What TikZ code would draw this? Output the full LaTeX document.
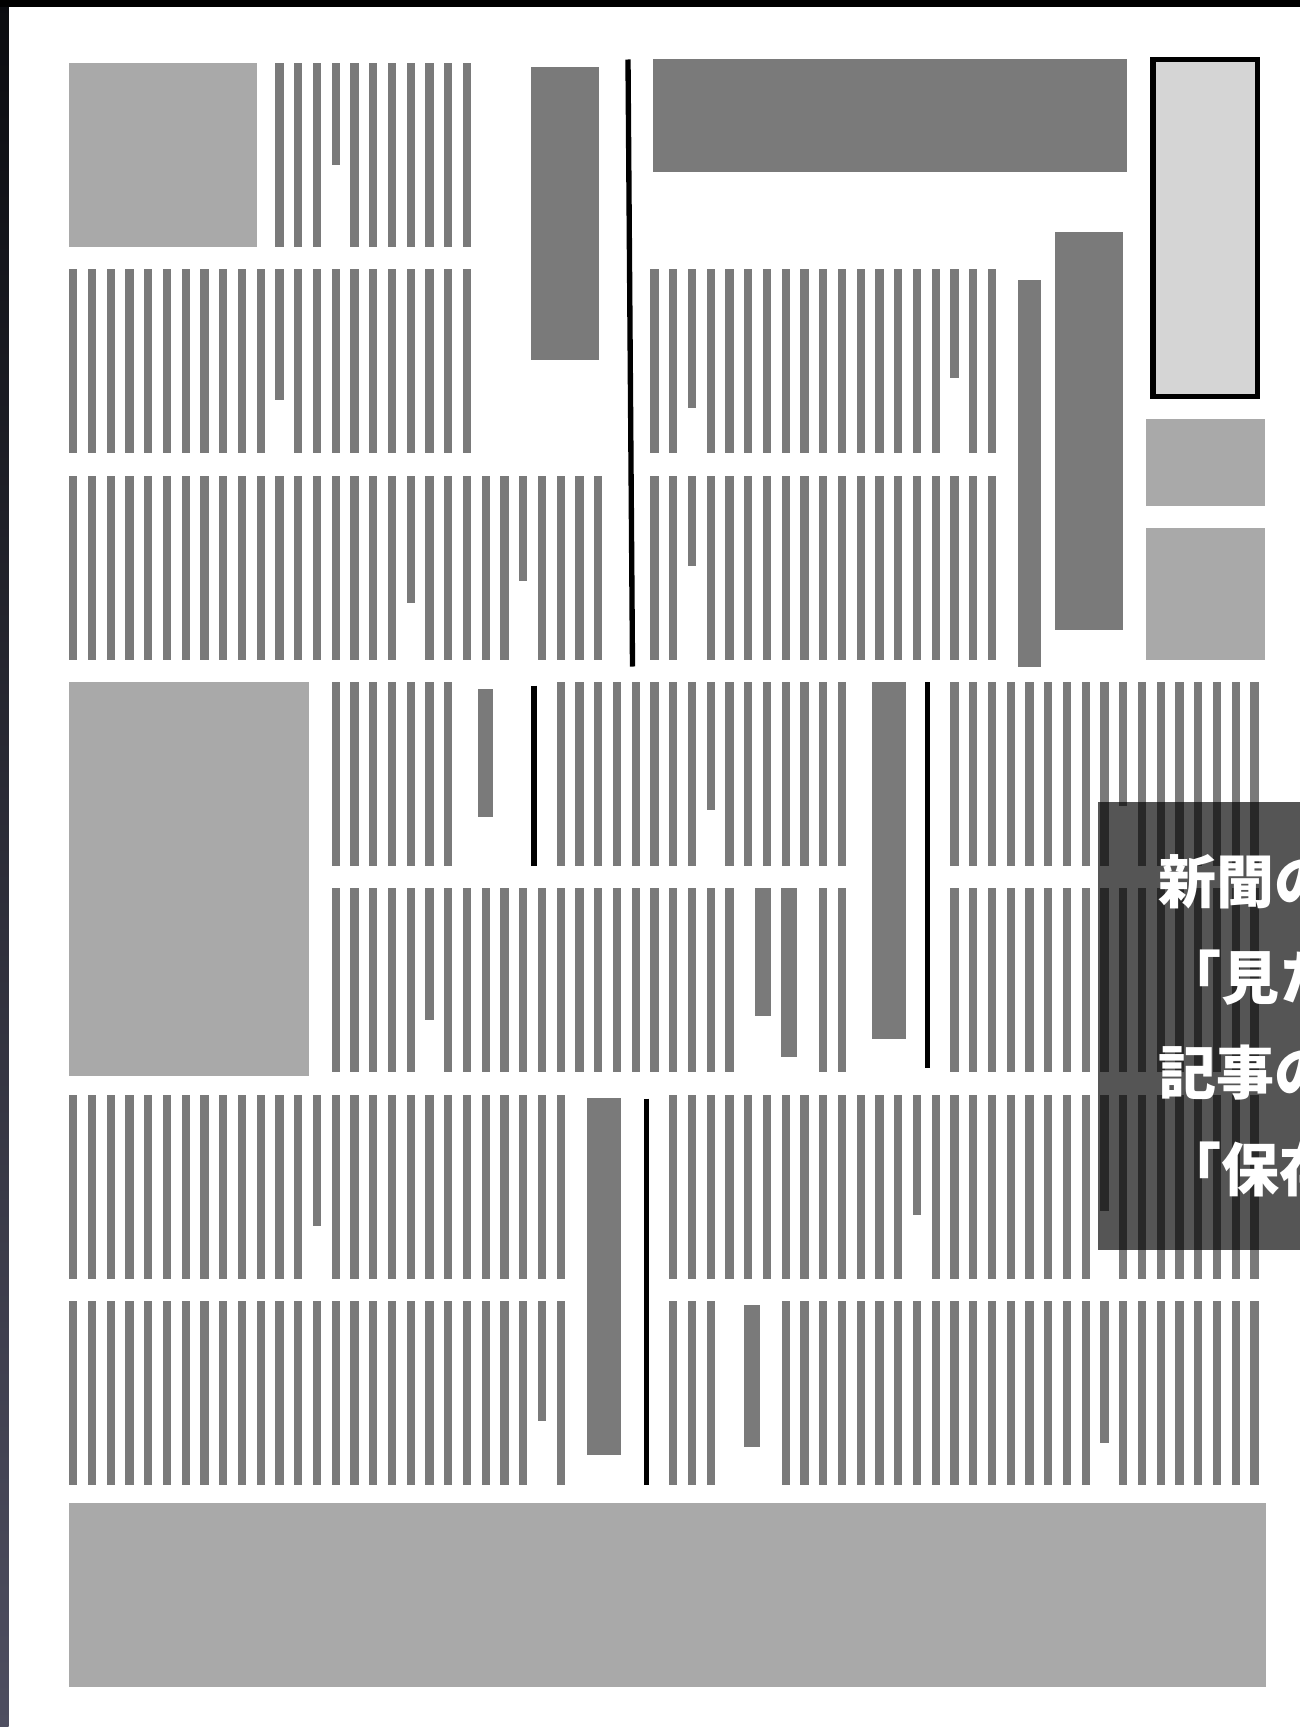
\documentclass[tikz,border=0pt]{standalone}
\usepackage{fontspec}
\newfontfamily\cjk{Noto Sans CJK JP}
\definecolor{stripegray}{HTML}{7A7A7A}
\definecolor{photogray}{HTML}{A9A9A9}
\definecolor{boxgray}{HTML}{D5D5D5}
\definecolor{edgetop}{HTML}{0B0C10}
\definecolor{edgebottom}{HTML}{4E4E60}
\tikzset{
  stripe/.style={fill=stripegray},
  darkbar/.style={fill=stripegray},
  photo/.style={fill=photogray},
  blackrule/.style={draw=black,line width=4pt},
  overtext/.style={text=white,inner sep=0pt,anchor=west,
    font=\cjk\bfseries\fontsize{43.5pt}{50pt}\selectfont}
}
% one run of text columns: first k, last k, top, bottom
\newcommand{\stripes}[4]{%
  \foreach \k in {#1,...,#2}{%
    \fill[stripe] ({69+18.75*\k},#3) rectangle ({77.3+18.75*\k},#4);}}

\begin{document}
\begin{tikzpicture}[x=0.75pt,y=0.75pt,yscale=-1,xscale=1]
    \useasboundingbox (0,0) rectangle (1300,1727);
    \clip (0,0) rectangle (1300,1727);
    \fill[white] (0,0) rectangle (1300,1727);

    % Frame edges
    \shade[top color=edgetop,bottom color=edgebottom] (0,0) rectangle (8.5,1727);
    \fill[black] (0,0) rectangle (1300,7);

    % Photos
    \fill[photo] (68.8,62.7) rectangle (257,246.7);
    \fill[photo] (1145.8,419) rectangle (1265,506);
    \fill[photo] (1145.8,528) rectangle (1265,659.7);
    \fill[photo] (68.8,682) rectangle (309.3,1075.7);
    \fill[photo] (68.8,1502.7) rectangle (1266,1687);
    % Outlined box
    \draw[line width=4pt,fill=boxgray] (1153,59.3) rectangle (1257.6,396.7);

    % Headlines
    \fill[darkbar] (653.3,59) rectangle (1126.8,171.7);
    \fill[darkbar] (530.7,66.7) rectangle (598.7,360);
    \fill[darkbar] (1054.6,232) rectangle (1122.6,630);
    \fill[darkbar] (1017.7,280) rectangle (1040.5,666.7);
    \fill[darkbar] (477.6,689.3) rectangle (493.4,816.7);
    \fill[darkbar] (871.8,682) rectangle (905.8,1039);
    \fill[darkbar] (754.5,888.3) rectangle (770.6,1015.7);
    \fill[darkbar] (781,888.3) rectangle (797,1056.7);
    \fill[darkbar] (586.7,1098) rectangle (620.6,1454.7);
    \fill[darkbar] (743.7,1305) rectangle (759.9,1447.3);

    % Rules
    \draw[blackrule] (628,59.5) -- (632.5,666.5);
    \draw[blackrule] (534,685.7) -- (534,866);
    \draw[blackrule] (927.5,682) -- (927.5,1068);
    \draw[blackrule] (646.5,1098.7) -- (646.5,1484.7);

    % Row 1
    \stripes{11}{13}{62.7}{246.7}
    \stripes{14}{14}{62.7}{164.7}
    \stripes{15}{21}{62.7}{246.7}
    % Row 2
    \stripes{0}{10}{269.1}{453.1}
    \stripes{11}{11}{269.1}{400}
    \stripes{12}{21}{269.1}{453.1}
    \stripes{31}{32}{269.1}{453.1}
    \stripes{33}{33}{269.1}{408.3}
    \stripes{34}{46}{269.1}{453.1}
    \stripes{47}{47}{269.1}{378.3}
    \stripes{48}{49}{269.1}{453.1}
    % Row 3
    \stripes{0}{17}{475.5}{659.5}
    \stripes{18}{18}{475.5}{603.3}
    \stripes{19}{23}{475.5}{659.5}
    \stripes{24}{24}{475.5}{580.7}
    \stripes{25}{28}{475.5}{659.5}
    \stripes{31}{32}{475.5}{659.5}
    \stripes{33}{33}{475.5}{566}
    \stripes{34}{49}{475.5}{659.5}
    % Row 4
    \stripes{14}{20}{681.9}{865.9}
    \stripes{26}{33}{681.9}{865.9}
    \stripes{34}{34}{681.9}{810}
    \stripes{35}{41}{681.9}{865.9}
    \stripes{47}{55}{681.9}{865.9}
    \stripes{56}{56}{681.9}{806}
    \stripes{57}{63}{681.9}{865.9}
    % Row 5
    \stripes{14}{18}{888.3}{1072.3}
    \stripes{19}{19}{888.3}{1020}
    \stripes{20}{35}{888.3}{1072.3}
    \stripes{40}{41}{888.3}{1072.3}
    \stripes{47}{63}{888.3}{1072.3}
    % Row 6
    \stripes{0}{12}{1094.7}{1278.7}
    \stripes{13}{13}{1094.7}{1225.7}
    \stripes{14}{26}{1094.7}{1278.7}
    \stripes{32}{44}{1094.7}{1278.7}
    \stripes{45}{45}{1094.7}{1214.7}
    \stripes{46}{54}{1094.7}{1278.7}
    \stripes{55}{55}{1094.7}{1210.7}
    \stripes{56}{63}{1094.7}{1278.7}
    % Row 7
    \stripes{0}{24}{1301.1}{1485.1}
    \stripes{25}{25}{1301.1}{1421.3}
    \stripes{26}{26}{1301.1}{1485.1}
    \stripes{32}{34}{1301.1}{1485.1}
    \stripes{38}{54}{1301.1}{1485.1}
    \stripes{55}{55}{1301.1}{1443.3}
    \stripes{56}{63}{1301.1}{1485.1}

    % Caption panel
    \fill[black,fill opacity=0.667] (1097.5,802) rectangle (1300,1250);
    \node[overtext] (capA) at (1158,882) {新聞の};
    \node[overtext] (capB) at (1163,978) {「見た};
    \node[overtext] (capC) at (1158,1073) {記事の};
    \node[overtext] (capD) at (1163,1169) {「保存};
\end{tikzpicture}
\end{document}
